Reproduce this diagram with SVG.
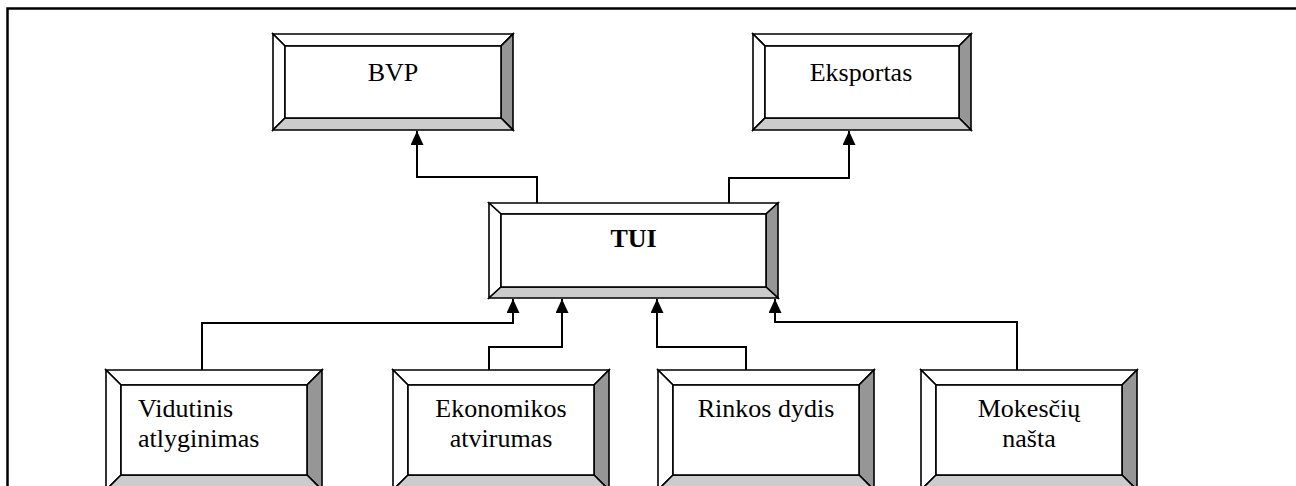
<svg xmlns="http://www.w3.org/2000/svg" width="1296" height="486" viewBox="0 0 1296 486">
  <style>
    .bev { stroke: #000; stroke-width: 1.6; stroke-linejoin: miter; }
    .lt { fill: #ffffff; }
    .rt { fill: #969696; }
    .bt { fill: #cccccc; }
    .face { fill: #ffffff; stroke: #000; stroke-width: 1.6; }
    .lbl { font-size: 26px; fill: #000; }
    .mid { text-anchor: middle; }
    .bold { font-weight: bold; }
    .wire { fill: none; stroke: #000; stroke-width: 2; }
    .frame { fill: none; stroke: #000; stroke-width: 2.5; }
  </style>
  <defs>
    <marker id="tip" markerUnits="userSpaceOnUse" markerWidth="14" markerHeight="13" viewBox="0 0 14 13" refX="14" refY="6.5" orient="auto">
      <path d="M0,0 L14,6.5 L0,13 z" fill="#000"/>
    </marker>
  </defs>

  <rect width="1296" height="486" fill="#ffffff"/>
  <path class="frame" d="M7.5,486 V8.5 H1296"/>

  <!-- connectors -->
  <g id="connectors">
    <polyline class="wire" points="537,203 537,177 417,177 417,131" marker-end="url(#tip)"/>
    <polyline class="wire" points="729,203 729,178 849,178 849,131" marker-end="url(#tip)"/>
    <polyline class="wire" points="202,370 202,323 513,323 513,299" marker-end="url(#tip)"/>
    <polyline class="wire" points="489,370 489,347 562,347 562,299" marker-end="url(#tip)"/>
    <polyline class="wire" points="746,370 746,347 657,347 657,299" marker-end="url(#tip)"/>
    <polyline class="wire" points="1017,370 1017,322 775,322 775,299" marker-end="url(#tip)"/>
  </g>

  <g font-family="'Liberation Serif', 'Times New Roman', 'DejaVu Serif', serif">
  <!-- BVP -->
  <g id="bvp">
    <polygon class="bev lt" points="273,34 513,34 501,46 285,46"/>
    <polygon class="bev lt" points="273,34 285,46 285,118 273,130"/>
    <polygon class="bev rt" points="513,34 513,130 501,118 501,46"/>
    <polygon class="bev bt" points="273,130 513,130 501,118 285,118"/>
    <rect class="face" x="285" y="46" width="216" height="72"/>
    <text class="lbl mid" x="393" y="81">BVP</text>
  </g>

  <!-- Eksportas -->
  <g id="eksportas">
    <polygon class="bev lt" points="753,34 971,34 959,46 765,46"/>
    <polygon class="bev lt" points="753,34 765,46 765,118 753,130"/>
    <polygon class="bev rt" points="971,34 971,130 959,118 959,46"/>
    <polygon class="bev bt" points="753,130 971,130 959,118 765,118"/>
    <rect class="face" x="765" y="46" width="194" height="72"/>
    <text class="lbl mid" x="861" y="81">Eksportas</text>
  </g>

  <!-- TUI -->
  <g id="tui">
    <polygon class="bev lt" points="489,203 778,203 766,214 501,214"/>
    <polygon class="bev lt" points="489,203 501,214 501,287 489,298"/>
    <polygon class="bev rt" points="778,203 778,298 766,287 766,214"/>
    <polygon class="bev bt" points="489,298 778,298 766,287 501,287"/>
    <rect class="face" x="501" y="214" width="265" height="73"/>
    <text class="lbl mid bold" x="633.5" y="247">TUI</text>
  </g>

  <!-- Vidutinis atlyginimas -->
  <g id="vidutinis-atlyginimas">
    <polygon class="bev lt" points="106,370 322,370 307,385 121,385"/>
    <polygon class="bev lt" points="106,370 121,385 121,475 106,490"/>
    <polygon class="bev rt" points="322,370 322,490 307,475 307,385"/>
    <polygon class="bev bt" points="106,490 322,490 307,475 121,475"/>
    <rect class="face" x="121" y="385" width="186" height="90"/>
    <text class="lbl" x="138" y="417">Vidutinis</text>
    <text class="lbl" x="138" y="447">atlyginimas</text>
  </g>

  <!-- Ekonomikos atvirumas -->
  <g id="ekonomikos-atvirumas">
    <polygon class="bev lt" points="393,370 609,370 594,385 408,385"/>
    <polygon class="bev lt" points="393,370 408,385 408,475 393,490"/>
    <polygon class="bev rt" points="609,370 609,490 594,475 594,385"/>
    <polygon class="bev bt" points="393,490 609,490 594,475 408,475"/>
    <rect class="face" x="408" y="385" width="186" height="90"/>
    <text class="lbl mid" x="501" y="417">Ekonomikos</text>
    <text class="lbl mid" x="501" y="447">atvirumas</text>
  </g>

  <!-- Rinkos dydis -->
  <g id="rinkos-dydis">
    <polygon class="bev lt" points="658,370 874,370 859,385 673,385"/>
    <polygon class="bev lt" points="658,370 673,385 673,475 658,490"/>
    <polygon class="bev rt" points="874,370 874,490 859,475 859,385"/>
    <polygon class="bev bt" points="658,490 874,490 859,475 673,475"/>
    <rect class="face" x="673" y="385" width="186" height="90"/>
    <text class="lbl mid" x="766" y="417">Rinkos dydis</text>
  </g>

  <!-- Mokesčių našta -->
  <g id="mokesciu-nasta">
    <polygon class="bev lt" points="921,370 1137,370 1122,385 936,385"/>
    <polygon class="bev lt" points="921,370 936,385 936,475 921,490"/>
    <polygon class="bev rt" points="1137,370 1137,490 1122,475 1122,385"/>
    <polygon class="bev bt" points="921,490 1137,490 1122,475 936,475"/>
    <rect class="face" x="936" y="385" width="186" height="90"/>
    <text class="lbl mid" x="1029" y="417">Mokesčių</text>
    <text class="lbl mid" x="1029" y="447">našta</text>
  </g>
  </g>
</svg>
